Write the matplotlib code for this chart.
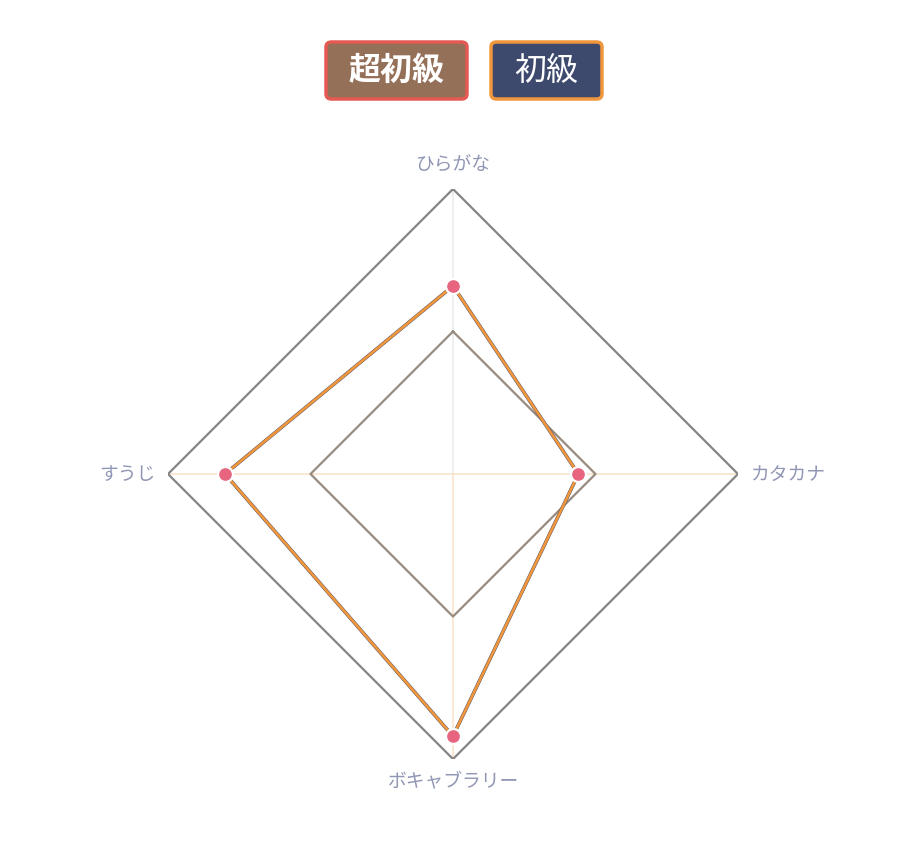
import numpy as np
import matplotlib
matplotlib.use("Agg")
import matplotlib.pyplot as plt
from matplotlib.patches import FancyBboxPatch

plt.rcParams['font.family'] = ['Noto Sans CJK JP', 'DejaVu Sans']

categories = ["ひらがな", "カタカナ", "ボキャブラリー", "すうじ"]
series_names = ["超初級", "初級"]
values_super = [66, 44, 92, 80]
values_basic = [66, 44, 92, 80]
grid_levels = [50, 100]
r_max = 100

fig = plt.figure(figsize=(9.2, 8.44), dpi=100)
ax = fig.add_axes([168/920, 85/844, 570/920, 570/844], projection='polar')
ax.set_theta_offset(np.pi/2)
ax.set_theta_direction(-1)
ax.set_ylim(0, r_max)
ax.grid(False)
ax.spines['polar'].set_visible(False)
ax.set_xticks([])
ax.set_yticks([])
ax.patch.set_alpha(0)

n = len(categories)
angles = [i * 2*np.pi/n for i in range(n)]
closed_angles = angles + angles[:1]

# spokes
for i, a in enumerate(angles):
    col = '#ececec' if i == 0 else '#fbe4cc'
    ax.plot([a, a], [0, r_max], color=col, lw=1.2, zorder=1)

# diamond gridlines
grid_colors = {50: '#978b80', 100: '#858585'}
for lvl in grid_levels:
    ax.plot(closed_angles, [lvl]*(n+1), color=grid_colors[lvl], lw=1.6, zorder=2)

# series
vs = values_super + values_super[:1]
vb = values_basic + values_basic[:1]
ax.plot(closed_angles, vs, color='#3a4466', lw=2.5, zorder=3)
ax.plot(closed_angles, vb, color='#f0963c', lw=2.0, zorder=4)
ax.scatter(angles, values_super, s=115, color='#e8657f', edgecolors='white',
           linewidths=1.6, zorder=6)

# labels
lab_kw = dict(color='#9096b4', fontsize=13.5, transform=ax.transData, zorder=7)
ax.text(angles[0], 108.5, categories[0], ha='center', va='center', **lab_kw)
ax.text(angles[1], 104.5, categories[1], ha='left', va='center', **lab_kw)
ax.text(angles[2], 107.5, categories[2], ha='center', va='center', **lab_kw)
ax.text(angles[3], 104.5, categories[3], ha='right', va='center', **lab_kw)

# legend boxes
legend_specs = [
    (series_names[0], 326, 467, '#957059', '#e45a52', 'bold'),
    (series_names[1], 491, 602, '#3d4a6e', '#f0963c', 'normal'),
]
for name, x0, x1, fc, ec, fw in legend_specs:
    y_top, y_bot = 42, 99
    box = FancyBboxPatch((x0/920, 1 - y_bot/844), (x1 - x0)/920, (y_bot - y_top)/844,
                         boxstyle="round,pad=0,rounding_size=0.006",
                         transform=fig.transFigure, facecolor=fc, edgecolor=ec,
                         linewidth=2.5)
    fig.patches.append(box)
    fig.text((x0 + x1)/2/920, 1 - (y_top + y_bot)/2/844, name, ha='center', va='center',
             color='white', fontsize=23, fontweight=fw)

fig.savefig('out.png', dpi=100)
